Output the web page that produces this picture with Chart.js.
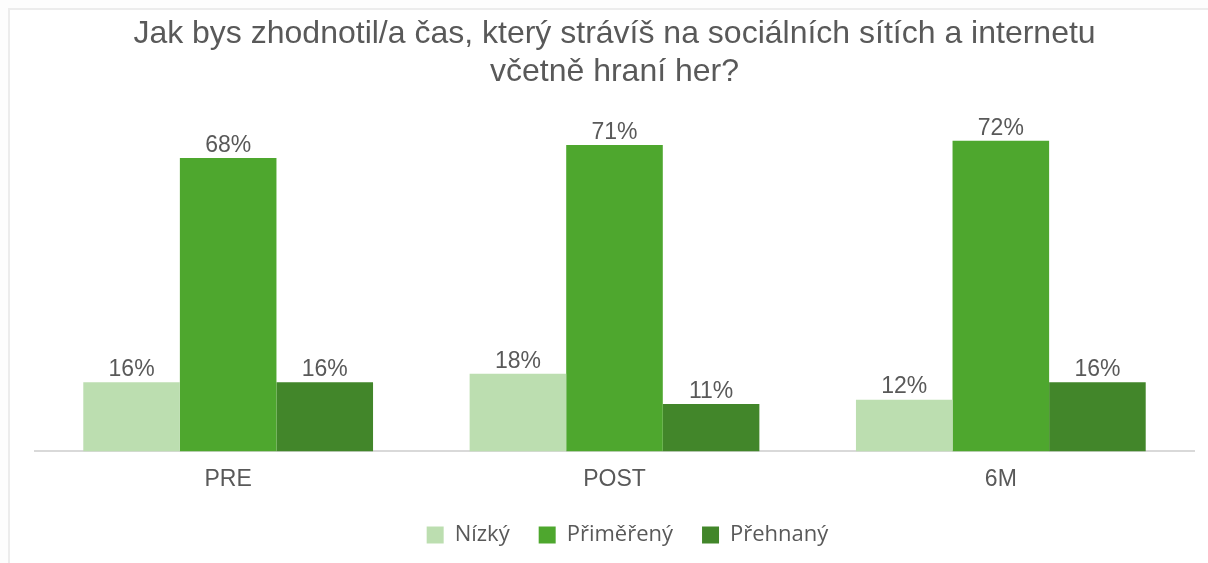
<!DOCTYPE html>
<html lang="cs">
<head>
    <meta charset="UTF-8">
    <title>Čas na sociálních sítích a internetu</title>
    <script src="https://cdn.jsdelivr.net/npm/chart.js"></script>
    <style>
        body {
            margin: 0;
            background: #fdfdfd;
            overflow: hidden;
        }
        .frame {
            position: absolute;
            left: 8px;
            top: 8px;
            width: 1400px;
            height: 700px;
            background: #ffffff;
            border-top: 2px solid #ececec;
            border-left: 2px solid #ececec;
        }
        .wrap {
            position: absolute;
            left: 0;
            top: 0;
            width: 1208px;
            height: 563px;
        }
    </style>
</head>
<body>
    <div class="frame"></div>
    <div class="wrap">
        <canvas id="chart" width="1208" height="563"></canvas>
    </div>

    <script>
        const titleLines = ['Jak bys zhodnotil/a čas, který strávíš na sociálních sítích a internetu', 'včetně hraní her?'];
        const categories = ['PRE', 'POST', '6M'];
        const seriesNames = ['Nízký', 'Přiměřený', 'Přehnaný'];
        const nizky = [16, 18, 12];
        const primereny = [68, 71, 72];
        const prehnany = [16, 11, 16];
        const colors = ['#bcdeb0', '#4ea72e', '#42862a'];

        const textColor = '#595959';

        // writes the percentage above each bar
        const valueLabels = {
            id: 'valueLabels',
            afterDatasetsDraw(chart) {
                const ctx = chart.ctx;
                ctx.save();
                ctx.fillStyle = textColor;
                ctx.font = '23px "Liberation Sans", Arial, sans-serif';
                ctx.textAlign = 'center';
                ctx.textBaseline = 'bottom';
                chart.data.datasets.forEach((ds, i) => {
                    chart.getDatasetMeta(i).data.forEach((bar, j) => {
                        ctx.fillText(ds.data[j] + '%', bar.x, bar.y - 1);
                    });
                });
                ctx.restore();
            }
        };

        // wider gaps between legend items without a taller legend box,
        // then move the legend a bit up and to the right
        const legendTweak = {
            id: 'legendTweak',
            afterInit(chart) {
                const lg = chart.legend;
                if (lg && !lg._tweaked) {
                    const fit = lg.fit;
                    lg.fit = function () {
                        fit.call(this);
                        this.height -= 5;
                    };
                    lg._tweaked = true;
                }
            },
            afterLayout(chart) {
                const lg = chart.legend;
                lg.top -= 12;
                lg.bottom -= 12;
                lg.left += 13;
                lg.right += 13;
            }
        };

        new Chart(document.getElementById('chart'), {
            type: 'bar',
            data: {
                labels: categories,
                datasets: [
                    { label: seriesNames[0], data: nizky, backgroundColor: colors[0] },
                    { label: seriesNames[1], data: primereny, backgroundColor: colors[1] },
                    { label: seriesNames[2], data: prehnany, backgroundColor: colors[2] }
                ]
            },
            options: {
                responsive: false,
                animation: false,
                events: [],
                datasets: {
                    bar: { categoryPercentage: 0.75, barPercentage: 1.0 }
                },
                layout: {
                    padding: { left: 35, right: 14, top: 0, bottom: 0 }
                },
                plugins: {
                    title: {
                        display: true,
                        text: titleLines,
                        color: textColor,
                        font: { family: '"Liberation Sans", Arial, sans-serif', size: 32, weight: 'normal', lineHeight: 1.16 },
                        padding: { top: 16, bottom: 16 }
                    },
                    legend: {
                        position: 'bottom',
                        labels: {
                            color: textColor,
                            font: { family: '"Open Sans", sans-serif', size: 22 },
                            boxWidth: 17,
                            boxHeight: 17,
                            padding: 29
                        }
                    },
                    tooltip: { enabled: false }
                },
                scales: {
                    x: {
                        grid: { display: false, drawTicks: false },
                        border: { color: '#d9d9d9', width: 2 },
                        ticks: {
                            color: textColor,
                            padding: 14,
                            font: { family: '"Liberation Sans", Arial, sans-serif', size: 23 }
                        }
                    },
                    y: {
                        display: false,
                        min: 0,
                        max: 80
                    }
                }
            },
            plugins: [valueLabels, legendTweak]
        });
    </script>
</body>
</html>
